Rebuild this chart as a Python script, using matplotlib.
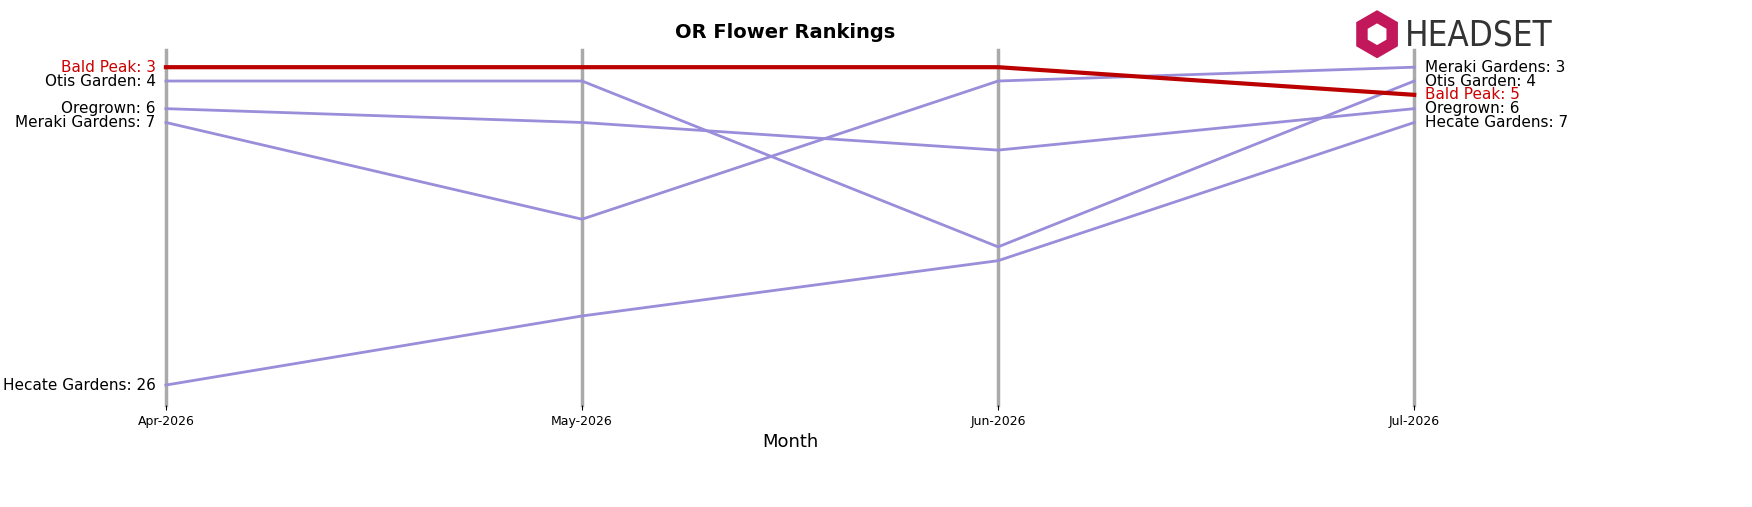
import matplotlib
matplotlib.use('Agg')
import matplotlib.pyplot as plt
from matplotlib.patches import RegularPolygon

months = ['Apr-2026', 'May-2026', 'Jun-2026', 'Jul-2026']
brands = ['Bald Peak', 'Otis Garden', 'Oregrown', 'Meraki Gardens', 'Hecate Gardens']
ranks = {
    'Bald Peak': [3, 3, 3, 5],
    'Otis Garden': [4, 4, 16, 4],
    'Oregrown': [6, 7, 9, 6],
    'Meraki Gardens': [7, 14, 4, 3],
    'Hecate Gardens': [26, 21, 17, 7],
}
highlight = 'Bald Peak'

fig = plt.figure(figsize=(17.52, 5.07), dpi=100)
ax = fig.add_axes([0.0947, 0.201, 0.7125, 0.70])
x = list(range(len(months)))

for xi in x:
    ax.axvline(xi, color='#aaaaaa', lw=2.5, zorder=0, clip_on=False)

for b in brands:
    r = ranks[b]
    if b == highlight:
        ax.plot(x, r, color='#bb0000', lw=3, zorder=3, clip_on=False)
        col = '#cc0000'
    else:
        ax.plot(x, r, color='#9a8dd9', lw=2, zorder=2, clip_on=False)
        col = 'black'
    ax.text(-0.025, r[0], f'{b}: {r[0]}', ha='right', va='center', fontsize=11, color=col)
    ax.text(x[-1] + 0.025, r[-1], f'{b}: {r[-1]}', ha='left', va='center', fontsize=11, color=col)

ax.set_xlim(0, 3)
ax.set_ylim(27.45, 1.77)
ax.set_xticks(x)
ax.set_xticklabels(months, fontsize=9)
ax.set_yticks([])
for s in ax.spines.values():
    s.set_visible(False)
ax.set_xlabel('Month', fontsize=13)
fig.text(0.448, 0.935, 'OR Flower Rankings', ha='center', va='center', fontsize=14, fontweight='bold')

# logo
lax = fig.add_axes([0.771, 0.885, 0.03, 0.095])
lax.set_xlim(-1, 1)
lax.set_ylim(-1, 1)
lax.set_aspect('equal')
lax.axis('off')
lax.add_patch(RegularPolygon((0, 0), 6, radius=1.0, facecolor='#c2185b', edgecolor='none'))
lax.add_patch(RegularPolygon((0, 0), 6, radius=0.45, facecolor='white', edgecolor='none'))
fig.text(0.802, 0.93, 'HEADSET', ha='left', va='center', fontsize=25, color='#333333',
         fontstretch='condensed')

fig.savefig('out.png', dpi=100)
